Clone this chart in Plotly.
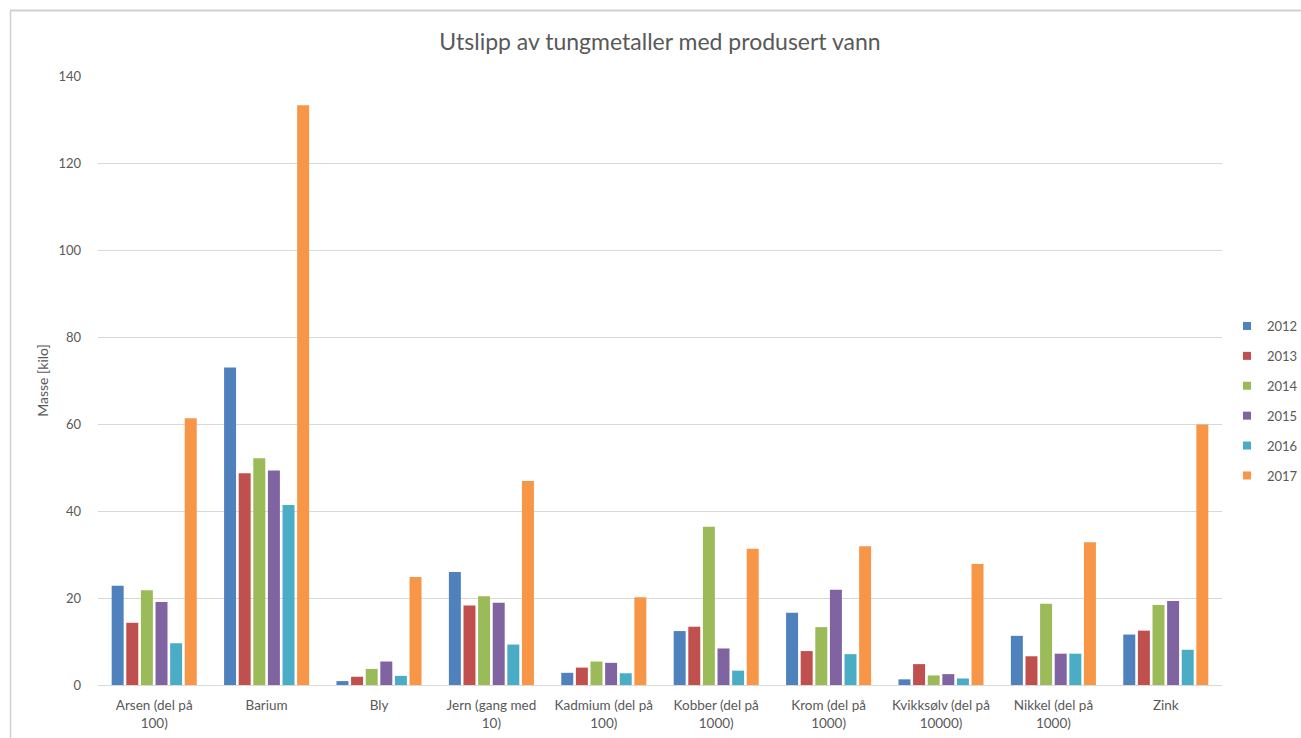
import plotly.graph_objects as go

# Categories (scaling noted in the label) and yearly emissions in kg
categories = [
    "Arsen (del på<br>100)", "Barium", "Bly", "Jern (gang med<br>10)",
    "Kadmium (del på<br>100)", "Kobber (del på<br>1000)", "Krom (del på<br>1000)",
    "Kvikksølv (del på<br>10000)", "Nikkel (del på<br>1000)", "Zink",
]
years = ["2012", "2013", "2014", "2015", "2016", "2017"]

v2012 = [22.8, 73.0, 0.9, 26.0, 2.8, 12.4, 16.6, 1.3, 11.3, 11.6]
v2013 = [14.3, 48.7, 1.9, 18.3, 4.0, 13.4, 7.8, 4.8, 6.6, 12.5]
v2014 = [21.8, 52.1, 3.7, 20.4, 5.4, 36.4, 13.3, 2.2, 18.7, 18.4]
v2015 = [19.1, 49.3, 5.4, 18.9, 5.1, 8.4, 21.9, 2.5, 7.2, 19.3]
v2016 = [9.6, 41.4, 2.1, 9.3, 2.7, 3.3, 7.1, 1.5, 7.2, 8.1]
v2017 = [61.3, 133.3, 24.8, 46.9, 20.2, 31.3, 31.9, 27.8, 32.8, 59.9]

series = [v2012, v2013, v2014, v2015, v2016, v2017]
colors = ["#4F81BD", "#C0504D", "#9BBB59", "#8064A2", "#4BACC6", "#F79646"]

FONT = "Lato, 'Open Sans', sans-serif"
GREY = "#595959"

fig = go.Figure()
for year, vals, col in zip(years, series, colors):
    fig.add_trace(go.Bar(
        x=categories, y=vals, name=year, marker_color=col,
        marker_line_width=0, showlegend=False,
    ))

# Legend entries drawn as small square swatches
for year, col in zip(years, colors):
    fig.add_trace(go.Scatter(
        x=[None], y=[None], mode="markers", name=year, legendgroup=year,
        marker=dict(symbol="square", size=8, color=col),
    ))

W, H = 1301, 738
L, R, T, B = 98, 79, 76, 53
pw, ph = W - L - R, H - T - B


def px_x(p):
    return (p - L) / pw


def px_y(p):
    return (H - B - p) / ph


fig.update_layout(
    width=W, height=H,
    margin=dict(l=L, r=R, t=T, b=B, autoexpand=False),
    paper_bgcolor="white", plot_bgcolor="white",
    barmode="group", bargap=0.22, bargroupgap=0.18,
    font=dict(family=FONT, size=12, color=GREY),
    title=dict(
        text="Utslipp av tungmetaller med produsert vann",
        x=0.5, xref="paper", xanchor="center",
        y=1 - 42 / H, yanchor="middle",
        font=dict(family=FONT, size=23, color=GREY),
    ),
    xaxis=dict(
        showgrid=False, showline=True, linecolor="#D9D9D9", linewidth=1,
        ticks="", ticklabelstandoff=8, tickfont=dict(size=13.5, color=GREY),
    ),
    yaxis=dict(
        range=[0, 140], dtick=20, showgrid=True, gridcolor="#D9D9D9",
        gridwidth=1, zeroline=False, showline=False, ticks="",
        ticklabelstandoff=16, tickfont=dict(size=13, color=GREY),
        title=dict(text="Masse [kilo]", standoff=6,
                   font=dict(size=14, color=GREY)),
    ),
    legend=dict(
        x=px_x(1227), xanchor="left", y=px_y(401), yanchor="middle",
        traceorder="grouped", tracegroupgap=10,
        font=dict(size=13, color=GREY), itemwidth=30,
        bgcolor="rgba(0,0,0,0)",
    ),
    shapes=[
        dict(type="line", xref="paper", yref="paper",
             x0=px_x(10), x1=px_x(W), y0=px_y(10.5), y1=px_y(10.5),
             line=dict(color="#D0D0D0", width=2)),
        dict(type="line", xref="paper", yref="paper",
             x0=px_x(10.5), x1=px_x(10.5), y0=px_y(10), y1=px_y(H),
             line=dict(color="#D0D0D0", width=1.5)),
    ],
)

fig.write_html("out.html")
